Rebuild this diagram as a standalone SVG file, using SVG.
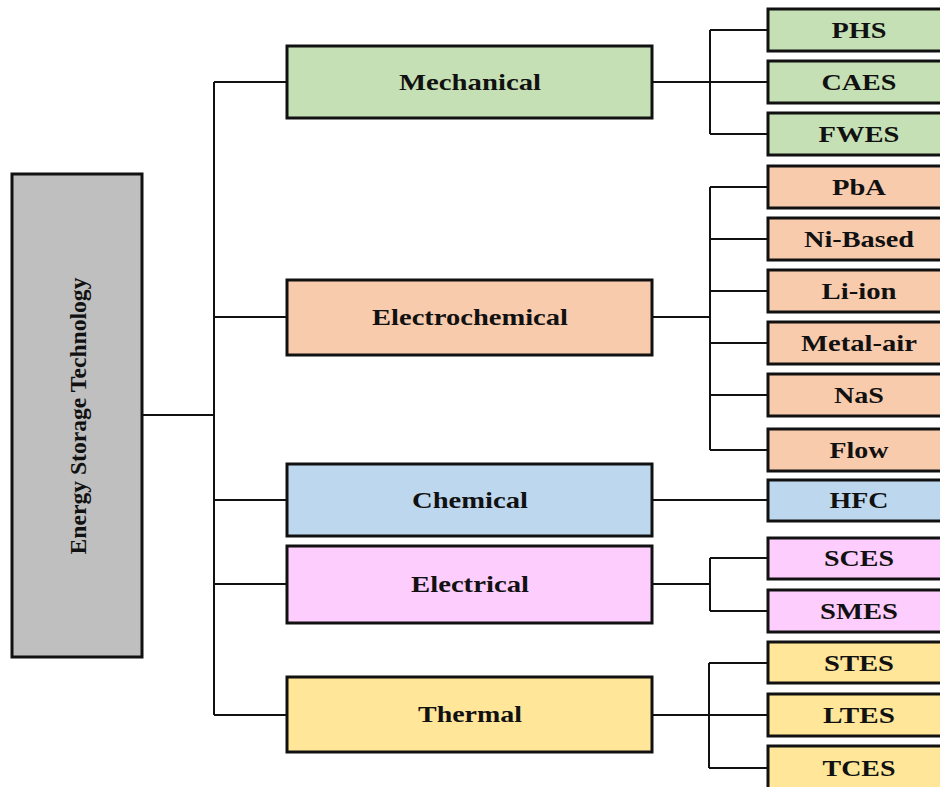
<svg xmlns="http://www.w3.org/2000/svg" width="940" height="787" viewBox="0 0 940 787">
<style>
.box{stroke:#111;stroke-width:3}
.gray{fill:#bfbfbf}.green{fill:#c5e0b4}.orange{fill:#f8cbad}.blue{fill:#bdd7ee}.pink{fill:#fdcdfd}.yellow{fill:#ffe699}
text{font-family:"Liberation Serif","Times New Roman",serif;font-weight:bold;fill:#111;text-anchor:middle}
.cat{font-size:23px}
.leaf{font-size:23px}
#connectors path{fill:none;stroke:#111;stroke-width:2}
</style>
<rect width="940" height="787" fill="#fff"/>
<g id="connectors">
<path d="M142 415H214M214 82V715M214 82H287M214 317H287M214 500H287M214 584H287M214 715H287"/>
<path d="M652 82H710M710 30V134M710 30H768M710 82H768M710 134H768"/>
<path d="M652 317H710M710 187V450M710 187H768M710 239H768M710 291H768M710 343H768M710 395H768M710 450H768"/>
<path d="M652 500H768"/>
<path d="M652 584H710M710 558V611M710 558H768M710 611H768"/>
<path d="M652 715H709M709 663V768M709 663H768M709 715H768M709 768H768"/>
</g>
<g id="root">
<rect class="box gray" x="12" y="174" width="130" height="483"/>
<text transform="translate(86 416) rotate(-90)" font-size="23" textLength="277" lengthAdjust="spacingAndGlyphs">Energy Storage Technology</text>
</g>
<g id="mechanical"><rect class="box green" x="287" y="46" width="365" height="72"/><text class="cat" x="470" y="90" textLength="142" lengthAdjust="spacingAndGlyphs">Mechanical</text></g>
<g id="electrochemical"><rect class="box orange" x="287" y="280" width="365" height="75"/><text class="cat" x="470" y="325" textLength="196" lengthAdjust="spacingAndGlyphs">Electrochemical</text></g>
<g id="chemical"><rect class="box blue" x="287" y="464" width="365" height="72"/><text class="cat" x="470" y="508" textLength="116" lengthAdjust="spacingAndGlyphs">Chemical</text></g>
<g id="electrical"><rect class="box pink" x="287" y="546" width="365" height="77"/><text class="cat" x="470" y="592" textLength="118" lengthAdjust="spacingAndGlyphs">Electrical</text></g>
<g id="thermal"><rect class="box yellow" x="287" y="677" width="365" height="75"/><text class="cat" x="470" y="722" textLength="104" lengthAdjust="spacingAndGlyphs">Thermal</text></g>

<g id="phs"><rect class="box green" x="768" y="9" width="184" height="42"/><text class="leaf" x="859" y="38" textLength="55" lengthAdjust="spacingAndGlyphs">PHS</text></g>
<g id="caes"><rect class="box green" x="768" y="61" width="184" height="42"/><text class="leaf" x="859" y="90" textLength="75" lengthAdjust="spacingAndGlyphs">CAES</text></g>
<g id="fwes"><rect class="box green" x="768" y="113" width="184" height="42"/><text class="leaf" x="859" y="142" textLength="81" lengthAdjust="spacingAndGlyphs">FWES</text></g>

<g id="pba"><rect class="box orange" x="768" y="166" width="184" height="42"/><text class="leaf" x="859" y="195" textLength="54" lengthAdjust="spacingAndGlyphs">PbA</text></g>
<g id="nibased"><rect class="box orange" x="768" y="218" width="184" height="42"/><text class="leaf" x="859" y="247" textLength="110" lengthAdjust="spacingAndGlyphs">Ni-Based</text></g>
<g id="liion"><rect class="box orange" x="768" y="270" width="184" height="42"/><text class="leaf" x="859" y="299" textLength="75" lengthAdjust="spacingAndGlyphs">Li-ion</text></g>
<g id="metalair"><rect class="box orange" x="768" y="322" width="184" height="42"/><text class="leaf" x="859" y="351" textLength="116" lengthAdjust="spacingAndGlyphs">Metal-air</text></g>
<g id="nas"><rect class="box orange" x="768" y="374" width="184" height="42"/><text class="leaf" x="859" y="403" textLength="50" lengthAdjust="spacingAndGlyphs">NaS</text></g>
<g id="flow"><rect class="box orange" x="768" y="429" width="184" height="42"/><text class="leaf" x="859" y="458" textLength="59" lengthAdjust="spacingAndGlyphs">Flow</text></g>

<g id="hfc"><rect class="box blue" x="768" y="480" width="184" height="41"/><text class="leaf" x="859" y="508" textLength="59" lengthAdjust="spacingAndGlyphs">HFC</text></g>

<g id="sces"><rect class="box pink" x="768" y="538" width="184" height="41"/><text class="leaf" x="859" y="566" textLength="70" lengthAdjust="spacingAndGlyphs">SCES</text></g>
<g id="smes"><rect class="box pink" x="768" y="590" width="184" height="42"/><text class="leaf" x="859" y="619" textLength="78" lengthAdjust="spacingAndGlyphs">SMES</text></g>

<g id="stes"><rect class="box yellow" x="768" y="642" width="184" height="41"/><text class="leaf" x="859" y="671" textLength="70" lengthAdjust="spacingAndGlyphs">STES</text></g>
<g id="ltes"><rect class="box yellow" x="768" y="694" width="184" height="42"/><text class="leaf" x="859" y="723" textLength="72" lengthAdjust="spacingAndGlyphs">LTES</text></g>
<g id="tces"><rect class="box yellow" x="768" y="746" width="184" height="44"/><text class="leaf" x="859" y="776" textLength="73" lengthAdjust="spacingAndGlyphs">TCES</text></g>
</svg>
